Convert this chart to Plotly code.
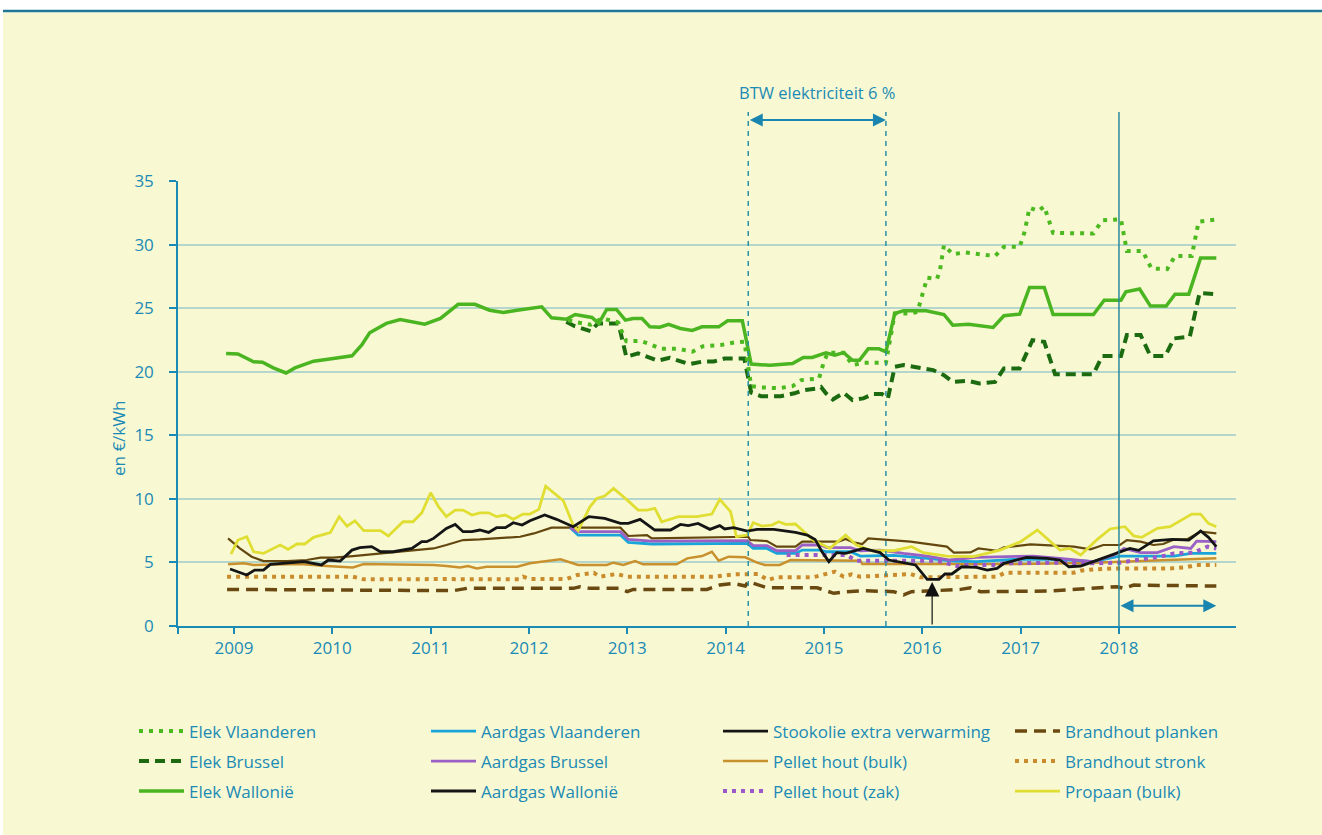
import plotly.graph_objects as go

# ---------------- data (decimal years, c€/kWh) ----------------
x_elek_wal = [2008.92, 2009.04, 2009.20, 2009.29, 2009.40, 2009.53, 2009.62, 2009.81, 2010.01, 2010.20, 2010.30, 2010.38,
              2010.55, 2010.69, 2010.94, 2011.10, 2011.28, 2011.45, 2011.60, 2011.74, 2011.88, 2012.13, 2012.23, 2012.38,
              2012.47, 2012.64, 2012.71, 2012.79, 2012.89, 2012.98, 2013.06, 2013.15, 2013.23, 2013.33, 2013.42, 2013.54,
              2013.66, 2013.76, 2013.93, 2014.02, 2014.17, 2014.26, 2014.45, 2014.68, 2014.79, 2014.88, 2015.02, 2015.11,
              2015.20, 2015.29, 2015.36, 2015.45, 2015.56, 2015.63, 2015.72, 2015.81, 2016.04, 2016.22, 2016.31, 2016.47,
              2016.72, 2016.83, 2016.99, 2017.09, 2017.24, 2017.33, 2017.74, 2017.85, 2018.02, 2018.07, 2018.21, 2018.32,
              2018.48, 2018.57, 2018.71, 2018.83, 2018.99]
y_elek_wal = [21.44, 21.4, 20.78, 20.75, 20.3, 19.9, 20.3, 20.83, 21.04, 21.25, 22.1, 23.06,
              23.8, 24.1, 23.74, 24.19, 25.3, 25.3, 24.84, 24.66, 24.84, 25.1, 24.24, 24.13,
              24.5, 24.27, 23.8, 24.9, 24.9, 24.06, 24.19, 24.19, 23.53, 23.5, 23.72, 23.4,
              23.25, 23.53, 23.53, 24.0, 24.0, 20.6, 20.5, 20.65, 21.12, 21.12, 21.49, 21.3,
              21.5, 20.9, 20.9, 21.8, 21.8, 21.57, 24.58, 24.8, 24.8, 24.5, 23.66, 23.74,
              23.48, 24.4, 24.53, 26.63, 26.63, 24.5, 24.5, 25.63, 25.63, 26.28, 26.5, 25.16,
              25.16, 26.1, 26.1, 28.95, 28.95]

x_elek_vla = [2012.40, 2012.47, 2012.55, 2012.63, 2012.74, 2012.90, 2012.99, 2013.06, 2013.13, 2013.22, 2013.34, 2013.52,
              2013.66, 2013.77, 2013.95, 2014.09, 2014.19, 2014.26, 2014.36, 2014.54, 2014.68, 2014.77, 2014.95, 2015.00,
              2015.04, 2015.20, 2015.29, 2015.40, 2015.55, 2015.63, 2015.72, 2015.86, 2015.95, 2016.00, 2016.05, 2016.15,
              2016.18, 2016.22, 2016.31, 2016.43, 2016.63, 2016.74, 2016.83, 2016.99, 2017.04, 2017.09, 2017.18, 2017.24,
              2017.33, 2017.74, 2017.83, 2018.02, 2018.08, 2018.24, 2018.33, 2018.49, 2018.57, 2018.74, 2018.81, 2018.99]
y_elek_vla = [24.06, 23.9, 23.8, 23.7, 24.2, 23.9, 22.4, 22.45, 22.43, 22.2, 21.8, 21.8,
              21.57, 22.0, 22.1, 22.3, 22.36, 18.87, 18.77, 18.7, 18.87, 19.34, 19.47, 20.8,
              21.5, 21.5, 20.52, 20.7, 20.7, 20.7, 24.58, 24.58, 24.7, 26.0, 27.4, 27.3,
              28.0, 29.95, 29.25, 29.38, 29.17, 29.1, 29.82, 29.82, 31.0, 32.9, 32.65, 33.0,
              30.92, 30.87, 31.9, 32.0, 29.5, 29.5, 28.12, 28.07, 29.1, 29.1, 31.8, 31.97]

x_elek_bru = [2012.38, 2012.46, 2012.63, 2012.70, 2012.91, 2012.99, 2013.11, 2013.31, 2013.43, 2013.63, 2013.77, 2013.88,
              2013.99, 2014.19, 2014.26, 2014.36, 2014.56, 2014.70, 2014.79, 2014.93, 2014.97, 2015.02, 2015.09, 2015.20,
              2015.29, 2015.40, 2015.50, 2015.59, 2015.65, 2015.72, 2015.81, 2016.11, 2016.22, 2016.31, 2016.47, 2016.58,
              2016.74, 2016.83, 2016.99, 2017.12, 2017.24, 2017.35, 2017.74, 2017.83, 2018.02, 2018.08, 2018.22, 2018.32,
              2018.47, 2018.56, 2018.72, 2018.82, 2018.99]
y_elek_bru = [23.93, 23.6, 23.19, 23.8, 23.8, 21.17, 21.44, 20.86, 21.1, 20.6, 20.8, 20.8,
              21.04, 21.04, 18.35, 18.08, 18.08, 18.3, 18.55, 18.68, 18.8, 18.3, 17.82, 18.34,
              17.77, 17.9, 18.24, 18.24, 17.9, 20.39, 20.52, 20.13, 19.73, 19.2, 19.28, 19.08,
              19.2, 20.26, 20.26, 22.48, 22.35, 19.81, 19.81, 21.23, 21.23, 22.88, 22.88, 21.23,
              21.23, 22.62, 22.75, 26.2, 26.1]

x_aardgas_vla = [2012.42, 2012.50, 2012.93, 2013.01, 2013.25, 2014.22, 2014.28, 2014.42, 2014.52, 2014.71, 2014.78, 2014.96,
                 2015.03, 2015.27, 2015.37, 2015.71, 2016.05, 2016.32, 2016.55, 2017.00, 2017.40, 2017.74, 2018.01, 2018.56,
                 2018.73, 2018.99]
y_aardgas_vla = [7.73, 7.15, 7.15, 6.58, 6.45, 6.5, 6.1, 6.1, 5.71, 5.71, 5.97, 5.97,
                 5.84, 5.84, 5.5, 5.55, 5.32, 5.11, 5.06, 5.27, 5.24, 5.06, 5.5, 5.5,
                 5.71, 5.71]

x_aardgas_bru = [2012.42, 2012.49, 2012.93, 2013.01, 2013.25, 2014.22, 2014.28, 2014.42, 2014.52, 2014.71, 2014.78, 2014.96,
                 2015.03, 2015.27, 2015.37, 2015.57, 2015.81, 2016.05, 2016.28, 2016.55, 2016.86, 2017.13, 2017.40, 2017.74,
                 2017.95, 2018.05, 2018.22, 2018.39, 2018.56, 2018.73, 2018.79, 2018.99]
y_aardgas_bru = [7.73, 7.42, 7.42, 6.81, 6.68, 6.71, 6.32, 6.32, 5.92, 5.92, 6.37, 6.37,
                 6.16, 6.16, 5.92, 5.97, 5.71, 5.5, 5.19, 5.4, 5.45, 5.5, 5.32, 5.06,
                 5.58, 6.1, 5.77, 5.77, 6.24, 6.1, 6.68, 6.63]

x_aardgas_wal = [2008.94, 2009.06, 2009.18, 2009.30, 2009.54, 2009.74, 2009.88, 2010.01, 2010.21, 2010.52, 2010.86, 2011.03,
                 2011.16, 2011.33, 2011.50, 2011.91, 2012.05, 2012.23, 2012.93, 2013.01, 2013.20, 2013.25, 2014.23, 2014.25,
                 2014.42, 2014.52, 2014.71, 2014.78, 2015.15, 2015.22, 2015.30, 2015.39, 2015.45, 2015.88, 2016.25, 2016.32,
                 2016.49, 2016.57, 2016.76, 2016.83, 2017.10, 2017.40, 2017.54, 2017.71, 2017.84, 2018.01, 2018.08, 2018.22,
                 2018.35, 2018.45, 2018.56, 2018.69, 2018.83, 2018.99]
y_aardgas_wal = [6.89, 6.1, 5.45, 5.11, 5.11, 5.19, 5.37, 5.37, 5.5, 5.71, 5.97, 6.1,
                 6.37, 6.76, 6.81, 7.02, 7.28, 7.73, 7.73, 7.08, 7.15, 6.89, 7.02, 6.76,
                 6.68, 6.24, 6.24, 6.63, 6.63, 6.84, 6.58, 6.45, 6.89, 6.63, 6.24, 5.77,
                 5.79, 6.1, 5.92, 6.18, 6.42, 6.29, 6.24, 6.03, 6.37, 6.37, 6.76, 6.63,
                 6.37, 6.45, 6.81, 6.81, 7.42, 7.28]

x_stookolie = [2008.96, 2009.13, 2009.21, 2009.30, 2009.37, 2009.54, 2009.71, 2009.89, 2009.96, 2010.08, 2010.20, 2010.28,
               2010.40, 2010.49, 2010.62, 2010.81, 2010.91, 2010.96, 2011.03, 2011.16, 2011.25, 2011.33, 2011.42, 2011.50,
               2011.59, 2011.67, 2011.76, 2011.84, 2011.93, 2012.01, 2012.16, 2012.28, 2012.45, 2012.61, 2012.77, 2012.93,
               2013.01, 2013.13, 2013.28, 2013.44, 2013.54, 2013.62, 2013.72, 2013.84, 2013.94, 2013.99, 2014.08, 2014.22,
               2014.32, 2014.49, 2014.71, 2014.83, 2014.91, 2014.98, 2015.05, 2015.13, 2015.22, 2015.40, 2015.57, 2015.66,
               2015.79, 2015.93, 2016.05, 2016.17, 2016.23, 2016.30, 2016.40, 2016.55, 2016.66, 2016.76, 2016.83, 2016.96,
               2017.06, 2017.27, 2017.40, 2017.49, 2017.61, 2017.71, 2017.86, 2018.00, 2018.11, 2018.20, 2018.35, 2018.54,
               2018.71, 2018.83, 2018.91, 2018.99]
y_stookolie = [4.48, 4.01, 4.4, 4.4, 4.85, 4.98, 5.06, 4.8, 5.19, 5.11, 5.97, 6.16,
               6.24, 5.84, 5.84, 6.1, 6.63, 6.63, 6.89, 7.68, 7.99, 7.42, 7.42, 7.55,
               7.36, 7.73, 7.73, 8.12, 7.94, 8.28, 8.73, 8.39, 7.81, 8.6, 8.46, 8.07,
               8.07, 8.39, 7.55, 7.55, 7.99, 7.89, 8.07, 7.6, 7.89, 7.63, 7.73, 7.47,
               7.6, 7.6, 7.36, 7.15, 6.81, 5.84, 5.06, 5.77, 5.71, 6.1, 5.77, 5.19,
               4.98, 4.8, 3.67, 3.67, 4.09, 4.09, 4.66, 4.61, 4.4, 4.53, 4.93, 5.19,
               5.4, 5.32, 5.19, 4.66, 4.72, 4.98, 5.4, 5.79, 6.1, 5.95, 6.7, 6.81,
               6.76, 7.47, 6.97, 6.24]

x_pellet_bulk = [2008.94, 2009.10, 2009.20, 2009.67, 2009.94, 2010.21, 2010.32, 2011.03, 2011.16, 2011.30, 2011.38, 2011.47,
                 2011.57, 2011.88, 2012.01, 2012.15, 2012.32, 2012.50, 2012.79, 2012.86, 2012.96, 2013.08, 2013.16, 2013.50,
                 2013.61, 2013.76, 2013.86, 2013.93, 2014.03, 2014.20, 2014.32, 2014.40, 2014.55, 2014.66, 2015.37, 2015.39,
                 2017.00, 2017.74, 2018.01, 2018.42, 2018.99]
y_pellet_bulk = [4.85, 4.93, 4.8, 4.87, 4.72, 4.61, 4.87, 4.8, 4.72, 4.61, 4.72, 4.53,
                 4.66, 4.66, 4.93, 5.08, 5.24, 4.8, 4.8, 4.98, 4.8, 5.11, 4.85, 4.85,
                 5.32, 5.5, 5.84, 5.14, 5.45, 5.4, 4.98, 4.8, 4.8, 5.19, 5.14, 4.87,
                 4.87, 4.98, 5.06, 5.14, 5.32]

x_pellet_zak = [2014.62, 2015.23, 2015.33, 2015.71, 2016.15, 2016.25, 2016.35, 2016.45, 2016.72, 2016.83, 2017.06, 2017.40,
                2017.74, 2018.01, 2018.22, 2018.42, 2018.56, 2018.76, 2018.90, 2018.99]
y_pellet_zak = [5.58, 5.58, 5.14, 5.11, 5.14, 4.93, 4.72, 4.8, 4.8, 4.93, 4.98, 4.98,
                4.93, 4.98, 5.24, 5.45, 5.71, 5.77, 6.24, 6.1]

x_hout_planken = [2008.93, 2011.23, 2011.37, 2012.45, 2012.52, 2012.62, 2012.93, 2013.00, 2013.06, 2013.81, 2013.94, 2014.08,
                  2014.20, 2014.23, 2014.42, 2014.93, 2015.10, 2015.23, 2015.40, 2015.71, 2015.81, 2015.89, 2016.05, 2016.39,
                  2016.49, 2016.59, 2017.27, 2017.74, 2017.98, 2018.05, 2018.15, 2018.99]
y_hout_planken = [2.88, 2.78, 2.96, 2.96, 3.09, 2.96, 2.96, 2.7, 2.88, 2.88, 3.22, 3.35,
                  3.14, 3.49, 3.01, 3.01, 2.57, 2.7, 2.78, 2.7, 2.44, 2.7, 2.75, 2.88,
                  3.01, 2.7, 2.75, 3.01, 3.09, 2.96, 3.22, 3.14]

x_hout_stronk = [2008.93, 2010.21, 2010.32, 2011.03, 2011.10, 2011.90, 2011.94, 2012.01, 2012.38, 2012.49, 2012.66, 2012.72,
                 2012.89, 2013.00, 2013.88, 2014.08, 2014.33, 2014.43, 2014.52, 2014.89, 2015.03, 2015.11, 2015.20, 2015.28,
                 2015.37, 2015.88, 2015.98, 2016.76, 2016.84, 2017.54, 2017.61, 2017.74, 2017.95, 2018.52, 2018.67, 2018.79,
                 2018.99]
y_hout_stronk = [3.88, 3.88, 3.67, 3.62, 3.69, 3.67, 3.88, 3.69, 3.69, 4.01, 4.19, 3.88,
                 4.09, 3.88, 3.88, 4.06, 4.09, 3.62, 3.83, 3.83, 4.09, 4.27, 3.88, 4.06,
                 3.88, 4.09, 3.83, 3.88, 4.19, 4.19, 4.35, 4.45, 4.53, 4.53, 4.61, 4.8,
                 4.8]

x_propaan = [2008.97, 2009.04, 2009.13, 2009.20, 2009.30, 2009.47, 2009.55, 2009.64, 2009.72, 2009.81, 2009.98, 2010.07,
             2010.15, 2010.23, 2010.32, 2010.49, 2010.57, 2010.72, 2010.82, 2010.91, 2011.00, 2011.08, 2011.16, 2011.25,
             2011.33, 2011.42, 2011.50, 2011.59, 2011.67, 2011.76, 2011.84, 2011.94, 2012.01, 2012.10, 2012.17, 2012.30,
             2012.35, 2012.45, 2012.50, 2012.62, 2012.69, 2012.77, 2012.86, 2013.00, 2013.11, 2013.20, 2013.28, 2013.35,
             2013.52, 2013.71, 2013.86, 2013.94, 2014.05, 2014.11, 2014.22, 2014.28, 2014.37, 2014.47, 2014.54, 2014.61,
             2014.71, 2014.89, 2015.06, 2015.22, 2015.33, 2015.49, 2015.71, 2015.89, 2016.01, 2016.25, 2016.52, 2016.79,
             2017.00, 2017.17, 2017.40, 2017.50, 2017.61, 2017.78, 2017.91, 2018.06, 2018.15, 2018.23, 2018.39, 2018.52,
             2018.74, 2018.83, 2018.91, 2018.99]
y_propaan = [5.66, 6.76, 7.02, 5.84, 5.71, 6.37, 6.03, 6.45, 6.45, 6.97, 7.34, 8.6,
             7.86, 8.28, 7.5, 7.5, 7.08, 8.2, 8.2, 8.9, 10.48, 9.38, 8.6, 9.12,
             9.12, 8.73, 8.9, 8.9, 8.6, 8.73, 8.39, 8.8, 8.8, 9.17, 11.0, 10.17,
             9.85, 7.9, 7.5, 9.38, 10.04, 10.22, 10.82, 9.9, 9.12, 9.12, 9.25, 8.2,
             8.6, 8.6, 8.8, 9.96, 8.99, 7.02, 7.15, 8.12, 7.86, 7.94, 8.2, 7.99,
             8.02, 6.76, 6.1, 7.15, 6.37, 5.92, 5.92, 6.24, 5.77, 5.5, 5.45, 5.97,
             6.63, 7.55, 5.97, 6.1, 5.58, 6.81, 7.63, 7.81, 7.08, 6.97, 7.68, 7.81,
             8.8, 8.8, 8.07, 7.81]

tick_years = [2009, 2010, 2011, 2012, 2013, 2014, 2015, 2016, 2017, 2018]
y_ticks = [0, 5, 10, 15, 20, 25, 30, 35]

btw_start, btw_end = 2014.23, 2015.63
marker_2018_start, marker_2018_end = 2018.0, 2018.99
oil_low_date, oil_low_value = 2016.10, 3.46
arrow_2018_level = 1.6

# ---------------- styling ----------------
TXT = "#1B8AB5"
AX = "#1B8AB5"
GRID = "#B4D6CC"
BG = "#F8F9D3"
FONT = "Open Sans"

W, H = 1322, 835
ML, MR, MT, MB = 178, 86, 181, 209
X0, X1 = 2008.431, 2019.19

fig = go.Figure()

def add(x, y, name, color, width, dash=None, rank=0, legend="legend", showlegend=True):
    fig.add_trace(go.Scatter(
        x=x, y=y, mode="lines", name=name,
        line=dict(color=color, width=width, dash=dash),
        legendrank=rank, legend=legend, showlegend=showlegend,
        hoverinfo="skip"))

# lower cluster first, electricity on top
add(x_hout_planken, y_hout_planken, "Brandhout planken", "#6B4A12", 3.5, "12px,7px", 4, "legend")
add(x_hout_stronk, y_hout_stronk, "Brandhout stronk", "#C98B2C", 4, "4px,5px", 4, "legend2")
add(x_pellet_bulk, y_pellet_bulk, "Pellet hout (bulk)", "#C8912E", 2.5, None, 3, "legend2")
add(x_aardgas_wal, y_aardgas_wal, "Aardgas Wallonië", "#64470F", 2.2, None, 2, "legend3", False)
add(x_aardgas_vla, y_aardgas_vla, "Aardgas Vlaanderen", "#1AA5DA", 2.8, None, 2, "legend")
add(x_aardgas_bru, y_aardgas_bru, "Aardgas Brussel", "#9A60C6", 2.8, None, 2, "legend2")
add(x_pellet_zak, y_pellet_zak, "Pellet hout (zak)", "#9A58C8", 4, "4px,5px", 3, "legend3")
add(x_propaan, y_propaan, "Propaan (bulk)", "#E0DE32", 2.8, None, 4, "legend3")
add(x_stookolie, y_stookolie, "Stookolie extra verwarming", "#151515", 2.8, None, 3, "legend")
# legend swatch for Aardgas Wallonië (black in the key)
fig.add_trace(go.Scatter(x=[None], y=[None], mode="lines", name="Aardgas Wallonië",
                         line=dict(color="#151515", width=3), legendrank=2, legend="legend3"))
add(x_elek_bru, y_elek_bru, "Elek Brussel", "#1C6B10", 4, "10px,6px", 1, "legend2")
add(x_elek_vla, y_elek_vla, "Elek Vlaanderen", "#4DB920", 4, "4px,6px", 1, "legend")
add(x_elek_wal, y_elek_wal, "Elek Wallonië", "#4BB521", 3.5, None, 1, "legend3")

def px_x(px):
    return (px - ML) / (W - ML - MR)

def px_y(py):
    return (H - MB - py) / (H - MT - MB)

shapes = [
    # beige panel and top rule
    dict(type="rect", xref="paper", yref="paper", x0=px_x(3), x1=px_x(W + 2), y0=px_y(H + 2), y1=px_y(12.5),
         fillcolor=BG, line=dict(width=0), layer="below"),
    dict(type="line", xref="paper", yref="paper", x0=px_x(3), x1=px_x(W + 2), y0=px_y(11), y1=px_y(11),
         line=dict(color="#1E7895", width=2.5)),
    # BTW period dashed limits
    dict(type="line", xref="x", yref="paper", x0=btw_start, x1=btw_start, y0=0, y1=px_y(112),
         line=dict(color="#2B8FA3", width=1.5, dash="5px,5px")),
    dict(type="line", xref="x", yref="paper", x0=btw_end, x1=btw_end, y0=0, y1=px_y(112),
         line=dict(color="#2B8FA3", width=1.5, dash="5px,5px")),
    # 2018 marker
    dict(type="line", xref="x", yref="paper", x0=marker_2018_start, x1=marker_2018_start, y0=0, y1=px_y(112),
         line=dict(color="#2A8A9C", width=1.5)),
]

annotations = [
    dict(text="BTW elektriciteit 6 %", x=(btw_start + btw_end) / 2, xref="x", y=px_y(92), yref="paper",
         xanchor="center", yanchor="middle", showarrow=False, font=dict(family=FONT, size=16.5, color=TXT)),
    dict(text="", x=btw_end, xref="x", y=px_y(120), yref="paper", ax=btw_start, axref="x", ay=0, ayref="pixel",
         showarrow=True, arrowside="end+start", arrowhead=2, startarrowhead=2, arrowsize=1.3, startarrowsize=1.3,
         arrowwidth=2, arrowcolor="#1A86B0", standoff=0, startstandoff=0),
    dict(text="", x=marker_2018_end, xref="x", y=arrow_2018_level, yref="y", ax=marker_2018_start, axref="x",
         ay=arrow_2018_level, ayref="y",
         showarrow=True, arrowside="end+start", arrowhead=2, startarrowhead=2, arrowsize=1.3, startarrowsize=1.3,
         arrowwidth=2, arrowcolor="#1A86B0", standoff=0, startstandoff=0),
    dict(text="", x=oil_low_date, xref="x", y=oil_low_value, yref="y", ax=oil_low_date, axref="x", ay=0, ayref="y",
         showarrow=True, arrowhead=2, arrowsize=2.4, arrowwidth=1.2, arrowcolor="#111111", standoff=0),
    dict(text="en €/kWh", x=px_x(118), xref="paper", y=px_y(439), yref="paper", textangle=-90, showarrow=False,
         xanchor="center", yanchor="middle", font=dict(family=FONT, size=17, color=TXT)),
]

leg_common = dict(orientation="h", xanchor="left", yanchor="middle", x=px_x(134),
                  font=dict(family=FONT, size=17, color=TXT), bgcolor="rgba(0,0,0,0)",
                  entrywidth=232, entrywidthmode="pixels", itemwidth=45, traceorder="normal")

fig.update_layout(
    width=W, height=H,
    margin=dict(l=ML, r=MR, t=MT, b=MB, autoexpand=False),
    paper_bgcolor="white", plot_bgcolor="rgba(0,0,0,0)",
    font=dict(family=FONT, size=16, color=TXT),
    showlegend=True,
    legend=dict(**leg_common, y=px_y(731.5)),
    legend2=dict(**leg_common, y=px_y(761.5)),
    legend3=dict(**leg_common, y=px_y(791.5)),
    shapes=shapes, annotations=annotations,
    xaxis=dict(range=[X0, X1], tickmode="array", tickvals=[X0] + tick_years,
               ticktext=[""] + [str(t) for t in tick_years],
               showgrid=False, zeroline=False, showline=True, linecolor=AX, linewidth=1.5,
               ticks="outside", ticklen=6, tickcolor=AX, tickwidth=1.5,
               tickfont=dict(family=FONT, size=17, color=TXT), fixedrange=True),
    yaxis=dict(range=[0, 35], tickmode="array", tickvals=y_ticks, showgrid=True, gridcolor=GRID, gridwidth=1.5,
               zeroline=False, showline=True, linecolor=AX, linewidth=1.5,
               ticks="outside", ticklen=7, tickcolor=AX, tickwidth=1.5, ticklabelstandoff=12,
               tickfont=dict(family=FONT, size=17, color=TXT), fixedrange=True),
)

fig.write_html("out.html", config={"displayModeBar": False},
               post_script="document.body.style.margin='0';document.body.style.overflow='hidden';")
